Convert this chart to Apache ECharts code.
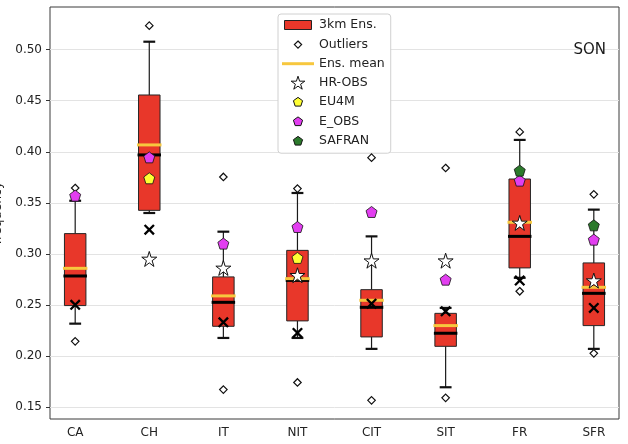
<!DOCTYPE html>
<html>
<head>
<meta charset="utf-8">
<script src="https://cdn.jsdelivr.net/npm/echarts@6/dist/echarts.min.js"></script>
<style>
html,body{margin:0;padding:0;background:#fff;}
#chart{width:628px;height:444px;}
</style>
</head>
<body>
<div id="chart"></div>
<script>
// ---- data ----
const categories = ['CA', 'CH', 'IT', 'NIT', 'CIT', 'SIT', 'FR', 'SFR'];
const whiskerLow  = [0.2316, 0.3400, 0.2176, 0.2176, 0.2069, 0.1693, 0.2765, 0.2069];
const q1          = [0.2493, 0.3426, 0.2290, 0.2343, 0.2186, 0.2094, 0.2862, 0.2297];
const median      = [0.2783, 0.3969, 0.2525, 0.2740, 0.2476, 0.2222, 0.3171, 0.2613];
const q3          = [0.3198, 0.4556, 0.2774, 0.3034, 0.2649, 0.2417, 0.3733, 0.2911];
const whiskerHigh = [0.3520, 0.5078, 0.3217, 0.3596, 0.3171, 0.2470, 0.4116, 0.3433];
const ensMean     = [0.2858, 0.4067, 0.2588, 0.2757, 0.2545, 0.2297, 0.3309, 0.2672];
const outliersHigh = [0.3645, 0.5235, 0.3753, 0.3639, 0.3942, 0.3841, 0.4194, 0.3583];
const outliersLow  = [0.2143, null, 0.1670, 0.1740, 0.1565, 0.1589, 0.2633, 0.2025];
const hrObs  = [null, 0.2950, 0.2862, 0.2790, 0.2933, 0.2933, 0.3303, 0.2738];
const eu4m   = [null, 0.3740, null, 0.2960, null, null, null, null];
const eObs   = [0.3570, 0.3945, 0.3100, 0.3263, 0.3410, 0.2747, 0.3717, 0.3139];
const safran = [null, null, null, null, null, null, 0.3815, 0.3279];
const xMarker = [0.2500, 0.3237, 0.2329, 0.2225, 0.2512, 0.2437, 0.2738, 0.2470];
const yTicks = [0.15, 0.20, 0.25, 0.30, 0.35, 0.40, 0.45, 0.50];
const seasonLabel = 'SON';
const yName = 'frequency';

// ---- style ----
const FONT = 'DejaVu Sans';
const RED = '#e8372a';
const GOLD = '#f7c73e';
const BOX_W = 0.29, CAP_W = 0.16, LINE_W = 0.33;

const PENT = 'M0,-1 L0.951,-0.309 L0.588,0.809 L-0.588,0.809 L-0.951,-0.309 Z';
const STAR = 'M0,-1 L0.2233,-0.3074 L0.9511,-0.309 L0.3614,0.1174 L0.5878,0.809 L0,0.38 L-0.5878,0.809 L-0.3614,0.1174 L-0.9511,-0.309 L-0.2233,-0.3074 Z';
const XMARK = 'M-1,-0.7 L-0.7,-1 L1,0.7 L0.7,1 Z M1,-0.7 L-0.7,1 L-1,0.7 L0.7,-1 Z';
const DIAM = 'M0,-1 L1,0 L0,1 L-1,0 Z';

function pts(arr) {
  const out = [];
  arr.forEach((v, i) => { if (v !== null && v !== undefined) out.push([i + 1, v]); });
  return out;
}

const boxData = categories.map((c, i) => [i + 1, whiskerLow[i], q1[i], median[i], q3[i], whiskerHigh[i]]);
const meanData = categories.map((c, i) => [i + 1, ensMean[i]]);
const outlierData = pts(outliersHigh).concat(pts(outliersLow));

function renderBox(params, api) {
  const x = api.value(0);
  const lo = api.coord([x, api.value(1)]);
  const b = api.coord([x, api.value(2)]);
  const md = api.coord([x, api.value(3)]);
  const t = api.coord([x, api.value(4)]);
  const hi = api.coord([x, api.value(5)]);
  const bw = api.size([BOX_W, 0])[0];
  const cw = api.size([CAP_W, 0])[0];
  const cx = b[0];
  const wl = {stroke: '#1a1a1a', lineWidth: 1.2};
  const cap = {stroke: '#111', lineWidth: 2.2};
  return {type: 'group', children: [
    {type: 'line', shape: {x1: cx, y1: lo[1], x2: cx, y2: b[1]}, style: wl},
    {type: 'line', shape: {x1: cx, y1: t[1], x2: cx, y2: hi[1]}, style: wl},
    {type: 'line', shape: {x1: cx - cw / 2, y1: lo[1], x2: cx + cw / 2, y2: lo[1]}, style: cap},
    {type: 'line', shape: {x1: cx - cw / 2, y1: hi[1], x2: cx + cw / 2, y2: hi[1]}, style: cap},
    {type: 'rect', shape: {x: cx - bw / 2, y: t[1], width: bw, height: b[1] - t[1]}, style: {fill: RED, stroke: '#262626', lineWidth: 1}},
    {type: 'line', shape: {x1: cx - bw / 2 - 1, y1: md[1], x2: cx + bw / 2 + 1, y2: md[1]}, style: {stroke: '#000', lineWidth: 3}}
  ]};
}

function renderMean(params, api) {
  const x = api.value(0);
  const p = api.coord([x, api.value(1)]);
  const w = api.size([LINE_W, 0])[0];
  return {type: 'line', shape: {x1: p[0] - w / 2, y1: p[1], x2: p[0] + w / 2, y2: p[1]}, style: {stroke: GOLD, lineWidth: 3}};
}

const chart = echarts.init(document.getElementById('chart'), null, {renderer: 'canvas'});
chart.setOption({
  animation: false,
  textStyle: {fontFamily: FONT},
  title: {
    text: seasonLabel, right: 22, top: 43, padding: 0,
    textStyle: {fontFamily: FONT, fontSize: 15, fontWeight: 'normal', color: '#1a1a1a'}
  },
  grid: {left: 50, right: 9, top: 7, bottom: 25, containLabel: false, outerBoundsMode: 'none',
         show: true, borderColor: '#3a3a3a', borderWidth: 1, backgroundColor: '#fff'},
  xAxis: {
    type: 'value', min: 0.66, max: 8.34,
    axisLine: {show: false},
    axisTick: {show: false},
    splitLine: {show: false},
    axisLabel: {
      customValues: categories.map((c, i) => i + 1),
      formatter: v => categories[Math.round(v) - 1] || '',
      fontFamily: FONT, fontSize: 12, color: '#222', margin: 8
    }
  },
  yAxis: {
    type: 'value', min: 0.1382, max: 0.5418,
    name: yName, nameLocation: 'middle', nameGap: 45,
    nameTextStyle: {fontFamily: FONT, fontSize: 12.5, color: '#222'},
    axisLine: {show: false},
    axisTick: {show: true, length: 4, customValues: yTicks, lineStyle: {color: '#333'}},
    axisLabel: {customValues: yTicks, formatter: v => v.toFixed(2), fontFamily: FONT, fontSize: 12, color: '#222', margin: 8},
    splitLine: {show: true, lineStyle: {color: '#e3e3e3', width: 1}}
  },
  legend: {
    left: 278, top: 14, orient: 'vertical',
    padding: [4, 6, 5, 4],
    itemWidth: 32, itemHeight: 13, itemGap: 5.5,
    backgroundColor: '#fff', borderColor: '#d0d0d0', borderWidth: 1, borderRadius: 3,
    selectedMode: false,
    textStyle: {fontFamily: FONT, fontSize: 12.5, color: '#222'},
    data: [
      {name: '3km Ens.', icon: 'path://M0,-2 M27,11 M0,0 H27 V9 H0 Z', itemStyle: {color: RED, borderColor: '#222', borderWidth: 1}},
      {name: 'Outliers', icon: 'path://M-1.8,-1.8 M1.8,1.8 ' + DIAM, itemStyle: {color: '#fff', borderColor: '#111', borderWidth: 1.2}},
      {name: 'Ens. mean', icon: 'path://M0,-0.1 H29 V2.6 H0 Z', itemStyle: {color: GOLD, borderWidth: 0}},
      {name: 'HR-OBS', icon: 'path://' + STAR, itemStyle: {color: '#fff', borderColor: '#111', borderWidth: 1}},
      {name: 'EU4M', icon: 'path://M-1.35,-1.35 M1.35,1.35 ' + PENT, itemStyle: {color: '#ffff33', borderColor: '#111', borderWidth: 1}},
      {name: 'E_OBS', icon: 'path://M-1.35,-1.35 M1.35,1.35 ' + PENT, itemStyle: {color: '#e23ef0', borderColor: '#111', borderWidth: 1}},
      {name: 'SAFRAN', icon: 'path://M-1.35,-1.35 M1.35,1.35 ' + PENT, itemStyle: {color: '#2c7a2c', borderColor: '#111', borderWidth: 1}}
    ]
  },
  series: [
    {name: '3km Ens.', type: 'custom', renderItem: renderBox, data: boxData, z: 2,
     itemStyle: {color: RED}, encode: {x: 0, y: [1, 2, 3, 4, 5]}},
    {name: 'Ens. mean', type: 'custom', renderItem: renderMean, data: meanData, z: 3,
     itemStyle: {color: GOLD}, encode: {x: 0, y: 1}},
    {name: 'Outliers', type: 'scatter', data: outlierData, z: 4, symbol: 'path://' + DIAM, symbolSize: 7.5,
     itemStyle: {color: '#fff', borderColor: '#111', borderWidth: 1.2, opacity: 1}},
    {name: 'X', type: 'scatter', data: pts(xMarker), z: 5, symbol: 'path://' + XMARK, symbolSize: 11,
     itemStyle: {color: '#000', opacity: 1}},
    {name: 'HR-OBS', type: 'scatter', data: pts(hrObs), z: 6, symbol: 'path://' + STAR, symbolSize: 15,
     itemStyle: {color: '#fff', borderColor: '#111', borderWidth: 1, opacity: 1}},
    {name: 'EU4M', type: 'scatter', data: pts(eu4m), z: 7, symbol: 'path://' + PENT, symbolSize: 11,
     itemStyle: {color: '#ffff33', borderColor: '#111', borderWidth: 0.8, opacity: 1}},
    {name: 'E_OBS', type: 'scatter', data: pts(eObs), z: 7, symbol: 'path://' + PENT, symbolSize: 11,
     itemStyle: {color: '#e23ef0', borderColor: '#111', borderWidth: 0.8, opacity: 1}},
    {name: 'SAFRAN', type: 'scatter', data: pts(safran), z: 7, symbol: 'path://' + PENT, symbolSize: 11,
     itemStyle: {color: '#2c7a2c', borderColor: '#111', borderWidth: 0.8, opacity: 1}}
  ]
});
</script>
</body>
</html>
